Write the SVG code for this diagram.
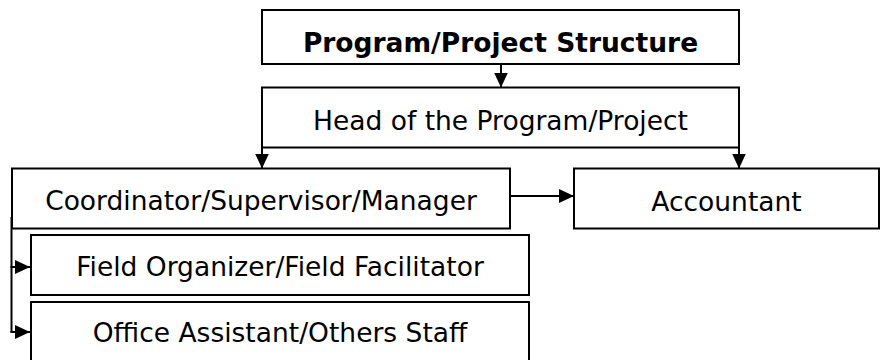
<svg xmlns="http://www.w3.org/2000/svg" width="896" height="360" viewBox="0 0 896 360">
<defs>
<style>
.box{fill:#fff;stroke:#000;stroke-width:2}
.t{font-family:"DejaVu Sans",sans-serif;font-size:26.5px;fill:#000;text-anchor:middle}
.b{font-weight:bold}
.c{fill:none;stroke:#000;stroke-width:2}
</style>
<marker id="ah" viewBox="0 0 15 14" refX="15" refY="7" markerWidth="15" markerHeight="14" markerUnits="userSpaceOnUse" orient="auto"><path d="M0,0L15,7L0,14z" fill="#000"/></marker>
</defs>
<rect width="896" height="360" fill="#fff"/>
<g id="n1"><rect class="box" x="262" y="10" width="477" height="54"/><text class="t b" x="500.5" y="52">Program/Project Structure</text></g>
<g id="n2"><rect class="box" x="262" y="87.5" width="477" height="60"/><text class="t" x="500.5" y="130">Head of the Program/Project</text></g>
<g id="n3"><rect class="box" x="12" y="168.5" width="498" height="60"/><text class="t" x="261" y="210">Coordinator/Supervisor/Manager</text></g>
<g id="n4"><rect class="box" x="574" y="168.5" width="305" height="60"/><text class="t" x="726.5" y="210.5">Accountant</text></g>
<g id="n5"><rect class="box" x="31" y="235" width="498" height="60"/><text class="t" x="280" y="276">Field Organizer/Field Facilitator</text></g>
<g id="n6"><rect class="box" x="31" y="302" width="498" height="62"/><text class="t" x="280" y="342">Office Assistant/Others Staff</text></g>
<g id="connectors">
<path class="c" d="M501,64V87.5" marker-end="url(#ah)"/>
<path class="c" d="M262,147.5V168.5" marker-end="url(#ah)"/>
<path class="c" d="M739,147.5V168.5" marker-end="url(#ah)"/>
<path class="c" d="M510,196H574" marker-end="url(#ah)"/>
<path class="c" d="M11.5,217V332.5"/>
<path class="c" d="M10.5,267H30" marker-end="url(#ah)"/>
<path class="c" d="M10.5,332H30" marker-end="url(#ah)"/>
</g>
</svg>
